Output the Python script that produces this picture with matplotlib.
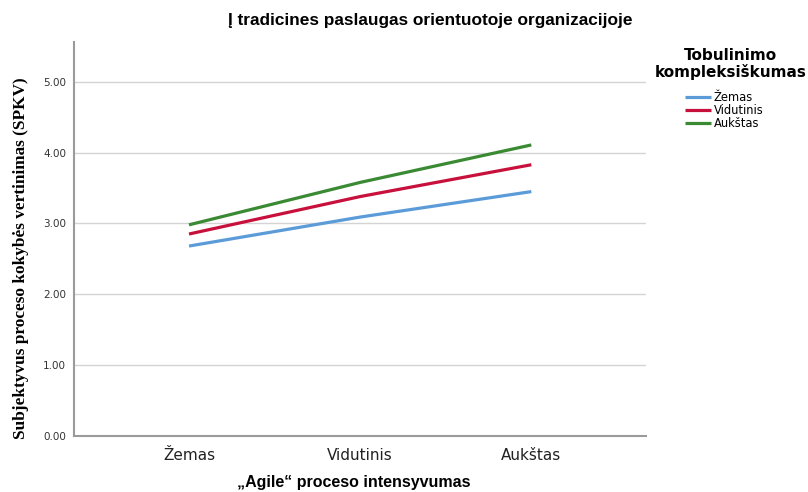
import numpy as np
import matplotlib
matplotlib.use('Agg')
import matplotlib.pyplot as plt

# Chart data
categories = ['Žemas', 'Vidutinis', 'Aukštas']
zemas = [2.68, 3.09, 3.45]
vidutinis = [2.85, 3.38, 3.83]
aukstas = [2.98, 3.58, 4.11]
series_names = ['Žemas', 'Vidutinis', 'Aukštas']
y_ticks = [0, 1, 2, 3, 4, 5]

colors = ['#5b9bd8', '#c8103c', '#3a8a34']

fig = plt.figure(figsize=(8.08, 4.92), dpi=100)
ax = fig.add_axes([0.092, 0.1148, 0.7075, 0.8004])

x = np.arange(len(categories))
for vals, name, c in zip([zemas, vidutinis, aukstas], series_names, colors):
    ax.plot(x, vals, color=c, linewidth=2.3, label=name, solid_capstyle='butt')

ax.set_xlim(-0.67, 2.67)
ax.set_ylim(0, 5.57)
ax.set_yticks(y_ticks)
ax.set_yticklabels([f'{v:.2f}' for v in y_ticks])
ax.set_xticks(x)
ax.set_xticklabels(categories, fontsize=11, family='DejaVu Sans', color='#222222')
ax.tick_params(axis='y', length=0, labelsize=7.5, labelcolor='#333333', pad=6)
ax.tick_params(axis='x', length=0, pad=9)

ax.grid(axis='y', color='#d4d4d4', linewidth=1)
ax.set_axisbelow(True)
for s in ['top', 'right']:
    ax.spines[s].set_visible(False)
for s in ['left', 'bottom']:
    ax.spines[s].set_color('#9a9a9a')
    ax.spines[s].set_linewidth(1.5)

# Titles and axis labels
fig.text(0.532, 0.959, 'Į tradicines paslaugas orientuotoje organizacijoje',
         ha='center', va='center', fontsize=12.4, fontweight='bold',
         family='Liberation Sans')
fig.text(0.438, 0.02, '„Agile“ proceso intensyvumas', ha='center', va='center',
         fontsize=11.5, fontweight='bold', family='Liberation Sans')
fig.text(0.026, 0.476, 'Subjektyvus proceso kokybės vertinimas (SPKV)',
         rotation=90, ha='center', va='center', fontsize=12.4,
         fontweight='bold', family='Liberation Serif')

# Legend (title drawn separately so it can sit centred above the entries)
fig.text(0.904, 0.87, 'Tobulinimo\nkompleksiškumas', ha='center', va='center',
         fontsize=11, fontweight='bold', family='DejaVu Sans',
         linespacing=1.05)
leg = ax.legend(loc='upper left', bbox_to_anchor=(0.848, 0.815),
                bbox_transform=fig.transFigure, frameon=False,
                fontsize=8.3, handlelength=2.25, handletextpad=0.2,
                labelspacing=0.02, borderaxespad=0, borderpad=0)

plt.savefig('out.png', dpi=100)
